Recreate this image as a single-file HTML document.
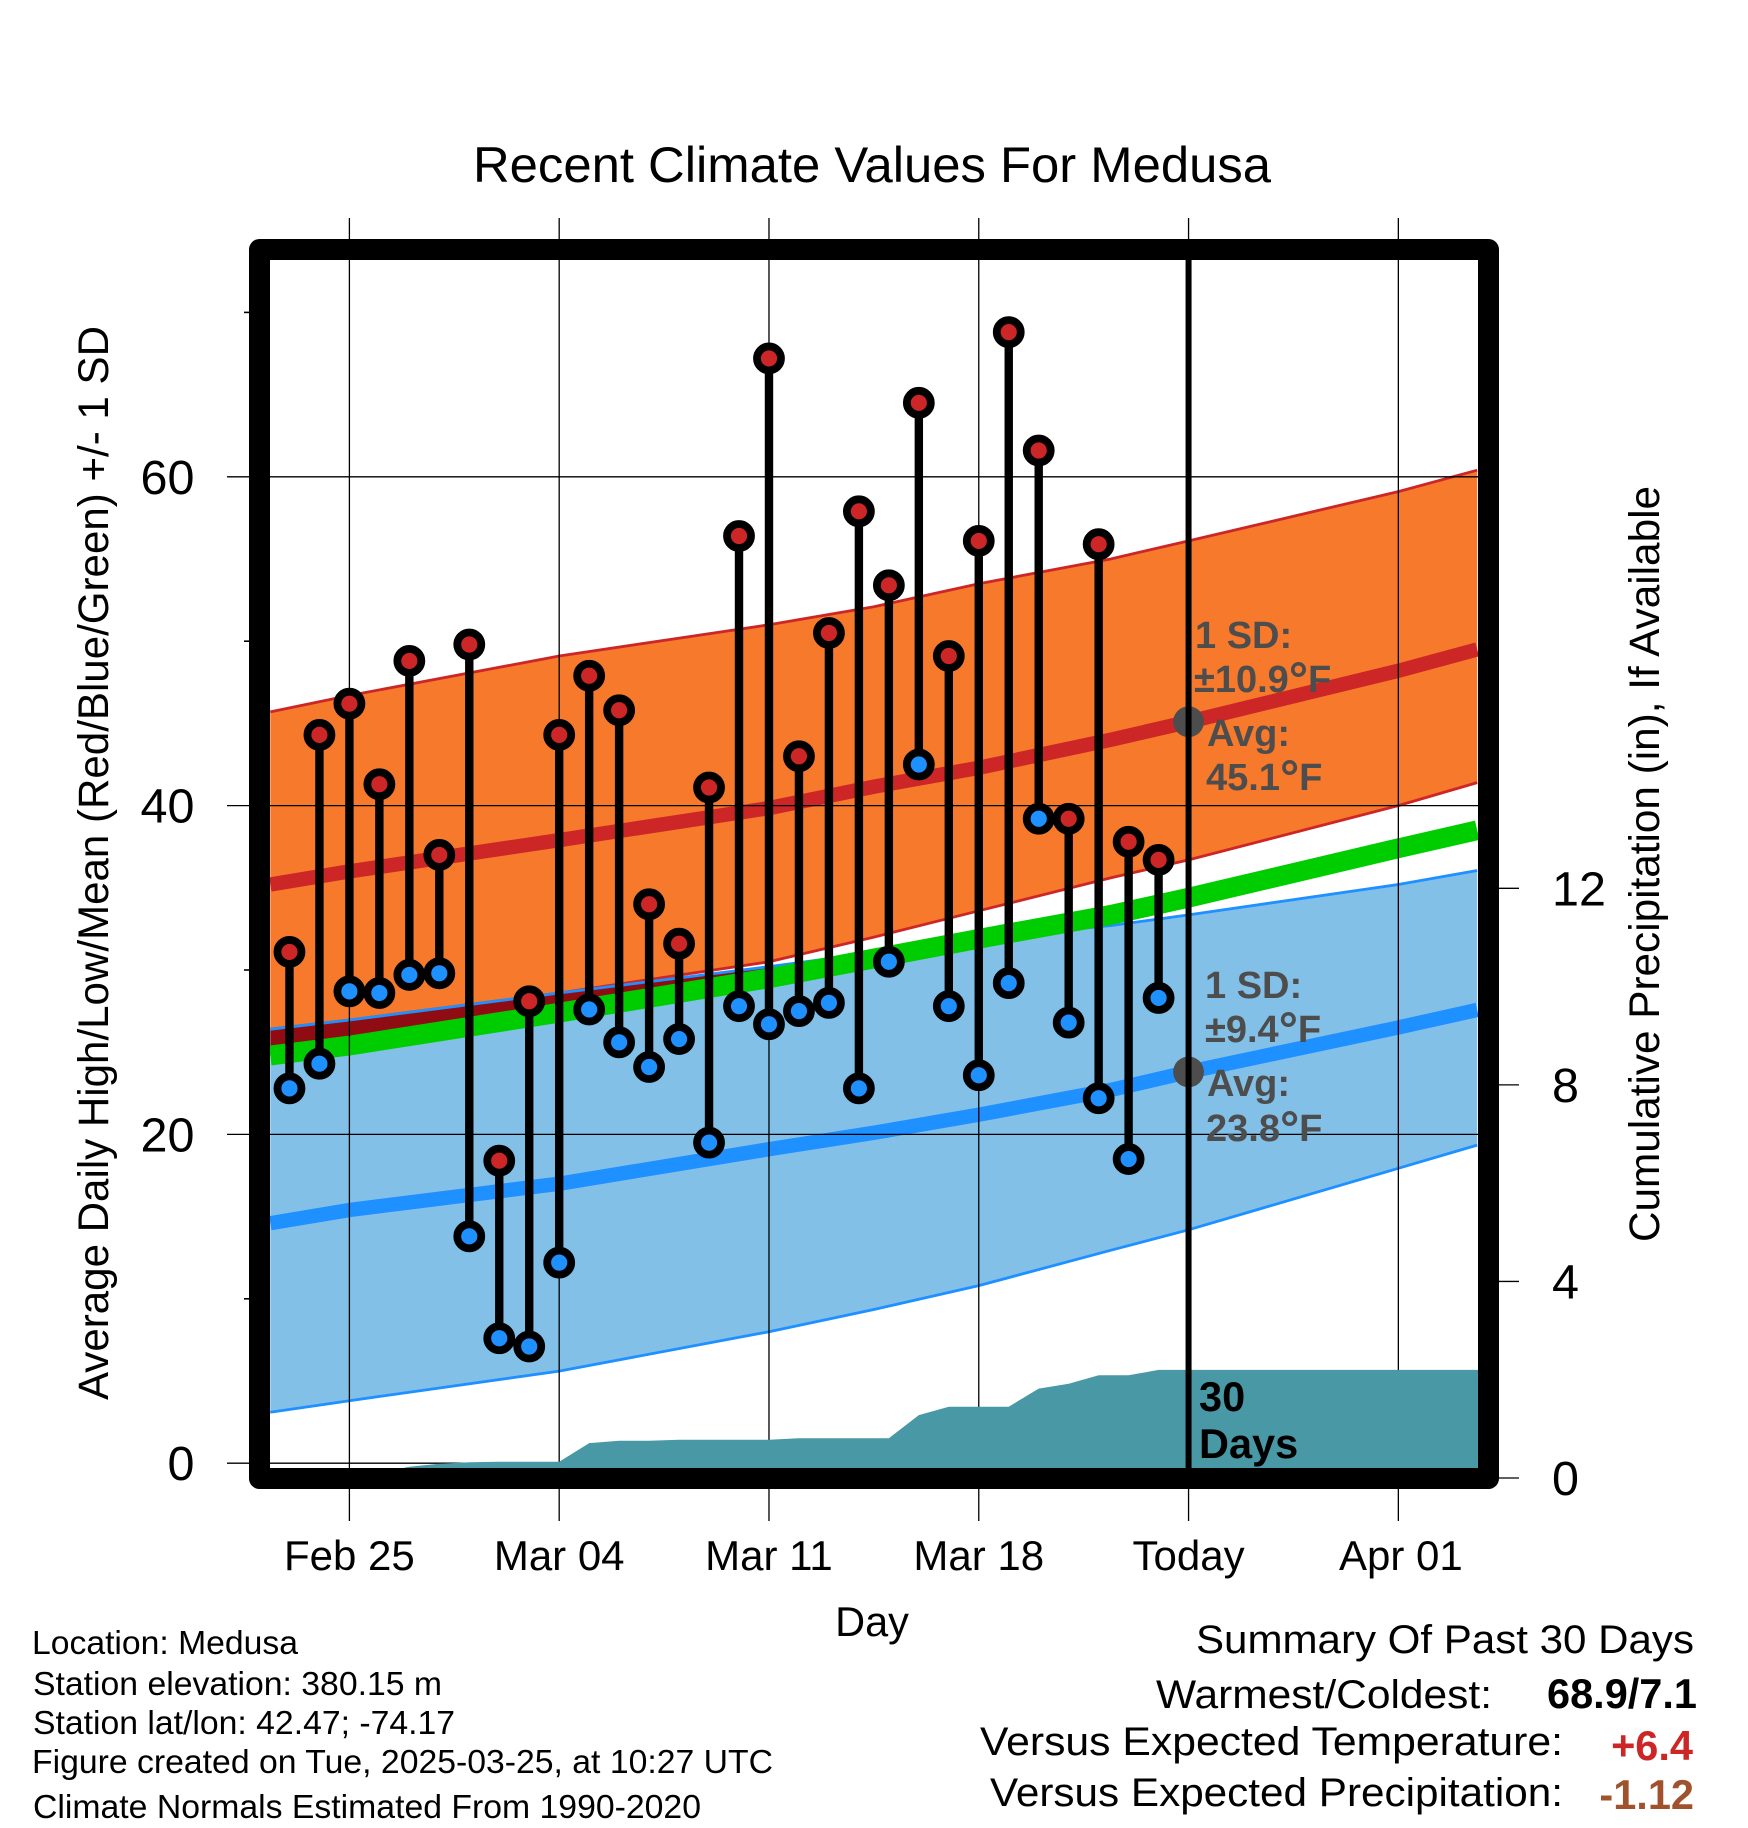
<!DOCTYPE html>
<html lang="en">
<head>
<meta charset="utf-8">
<title>Recent Climate Values For Medusa</title>
<style>
html,body{margin:0;padding:0;background:#fff;width:1748px;height:1828px;overflow:hidden}
svg{display:block;font-family:"Liberation Sans",Arial,Helvetica,sans-serif}
.note{font-weight:bold;fill:#4d4d4d;font-size:38px}
.info{font-size:33.6px;fill:#000}
.sum{font-size:40px;fill:#000}
.sumb{font-size:41.5px;font-weight:bold}
</style>
</head>
<body>
<svg id="chart" xmlns="http://www.w3.org/2000/svg" width="1748" height="1828" viewBox="0 0 1748 1828">
  <rect x="0" y="0" width="1748" height="1828" fill="#ffffff"/>
  <defs><clipPath id="plotClip"><rect x="270" y="260" width="1208" height="1208"/></clipPath></defs>
  <g id="bands" clip-path="url(#plotClip)"></g>
  <g id="grid"></g>
  <g id="precip" clip-path="url(#plotClip)"></g>
  <g id="today"></g>
  <g id="obs"></g>
  <rect x="259.5" y="249.5" width="1229" height="1229" fill="none" stroke="#000" stroke-width="21" stroke-linejoin="round"/>
  <g id="ticklabels" fill="#000"></g>

  <text x="872" y="182" text-anchor="middle" font-size="50" textLength="798" lengthAdjust="spacingAndGlyphs">Recent Climate Values For Medusa</text>
  <text transform="translate(108,863) rotate(-90)" text-anchor="middle" font-size="42.5" textLength="1074" lengthAdjust="spacingAndGlyphs">Average Daily High/Low/Mean (Red/Blue/Green) +/- 1 SD</text>
  <text transform="translate(1659,864) rotate(-90)" text-anchor="middle" font-size="42.5" textLength="756" lengthAdjust="spacingAndGlyphs">Cumulative Precipitation (in), If Available</text>
  <text x="872" y="1636" text-anchor="middle" font-size="41.5">Day</text>

  <text class="note" x="1195" y="648">1 SD:</text>
  <text class="note" x="1194" y="692">±10.9<tspan font-size="48" dy="4">°</tspan><tspan dy="-4">F</tspan></text>
  <text class="note" x="1207" y="746">Avg:</text>
  <text class="note" x="1206" y="790">45.1<tspan font-size="48" dy="4">°</tspan><tspan dy="-4">F</tspan></text>
  <text class="note" x="1205" y="998">1 SD:</text>
  <text class="note" x="1205" y="1042">±9.4<tspan font-size="48" dy="4">°</tspan><tspan dy="-4">F</tspan></text>
  <text class="note" x="1207" y="1096">Avg:</text>
  <text class="note" x="1206" y="1141">23.8<tspan font-size="48" dy="4">°</tspan><tspan dy="-4">F</tspan></text>
  <text x="1199" y="1411" font-size="41.5" font-weight="bold" fill="#000">30</text>
  <text x="1199" y="1458" font-size="41.5" font-weight="bold" fill="#000">Days</text>

  <text class="info" x="32" y="1654" textLength="266" lengthAdjust="spacingAndGlyphs">Location: Medusa</text>
  <text class="info" x="33" y="1695" textLength="409" lengthAdjust="spacingAndGlyphs">Station elevation: 380.15 m</text>
  <text class="info" x="33" y="1734" textLength="422" lengthAdjust="spacingAndGlyphs">Station lat/lon: 42.47; -74.17</text>
  <text class="info" x="32" y="1773" textLength="741" lengthAdjust="spacingAndGlyphs">Figure created on Tue, 2025-03-25, at 10:27 UTC</text>
  <text class="info" x="33" y="1818" textLength="668" lengthAdjust="spacingAndGlyphs">Climate Normals Estimated From 1990-2020</text>

  <text class="sum" x="1694" y="1653" text-anchor="end" textLength="498" lengthAdjust="spacingAndGlyphs">Summary Of Past 30 Days</text>
  <text class="sum" x="1492" y="1708" text-anchor="end" textLength="336" lengthAdjust="spacingAndGlyphs">Warmest/Coldest:</text>
  <text class="sumb" x="1697" y="1708" text-anchor="end" fill="#000">68.9/7.1</text>
  <text class="sum" x="1563" y="1755" text-anchor="end" textLength="583" lengthAdjust="spacingAndGlyphs">Versus Expected Temperature:</text>
  <text class="sumb" x="1693" y="1760" text-anchor="end" fill="#cd2626">+6.4</text>
  <text class="sum" x="1563" y="1806" text-anchor="end" textLength="573" lengthAdjust="spacingAndGlyphs">Versus Expected Precipitation:</text>
  <text class="sumb" x="1694" y="1809" text-anchor="end" fill="#a0522d">-1.12</text>
</svg>
<script>
// ---- data (days are counted from Feb 25) ----
const obsDays = [-2,-1,0,1,2,3,4,5,6,7,8,9,10,11,12,13,14,15,16,17,18,19,20,21,22,23,24,25,26,27];
const dailyHigh = [31.1,44.3,46.2,41.3,48.8,37.0,49.8,18.4,28.1,44.3,47.9,45.8,34.0,31.6,41.1,56.4,67.2,43.0,50.5,57.9,53.4,64.5,49.1,56.1,68.8,61.6,39.2,55.9,37.8,36.7];
const dailyLow = [22.8,24.3,28.7,28.6,29.7,29.8,13.8,7.6,7.1,12.2,27.6,25.6,24.1,25.8,19.5,27.8,26.7,27.5,28.0,22.8,30.5,42.5,27.8,23.6,29.2,39.2,26.8,22.2,18.5,28.3];
const cumPrecip = [0,0,0,0.1,0.23,0.29,0.32,0.33,0.33,0.33,0.71,0.76,0.76,0.78,0.78,0.78,0.78,0.81,0.81,0.81,0.81,1.28,1.45,1.45,1.45,1.82,1.92,2.09,2.09,2.2];
const normalDays = [-2.64,0,7,14,17.5,21,25.4,28,35,37.63];
const highUpper = [45.7,46.7,49.1,51.0,52.1,53.5,55.0,56.1,59.1,60.4];
const highMean = [35.2,36.0,37.9,39.85,41.15,42.3,44.0,45.1,48.2,49.5];
const highLower = [26.4,26.96,28.6,30.5,32.0,33.6,35.6,36.7,40.0,41.4];
const dailyMean = [24.8,25.4,27.4,29.5,30.7,31.9,33.35,34.4,37.4,38.5];
const lowUpper = [26.4,26.96,28.6,30.2,31.05,31.95,32.7,33.35,35.2,36.05];
const lowMean = [14.6,15.4,17.0,19.1,20.1,21.2,22.7,23.8,26.5,27.57];
const lowLower = [3.1,3.8,5.6,8.0,9.35,10.8,12.95,14.2,17.94,19.35];
const xTickDays = [0,7,14,21,28,35];
const xTickLabels = ["Feb 25","Mar 04","Mar 11","Mar 18","Today","Apr 01"];
const yTicks = [0,20,40,60];
const yMinorTicks = [10,30,50,70];
const precipTicks = [0,4,8,12];
const todayDay = 28;
const todayHighAvg = 45.1;
const todayLowAvg = 23.8;
const overlapEndIndex = 3;
const lastDay = 37.7;

// ---- axis functions ----
const xScale = d => 349.4 + 29.97 * d;
const yScale = v => 1463.2 - 16.44 * v;
const pScale = v => 1478 - 49.14 * v;

const NS = "http://www.w3.org/2000/svg";
function mk(parent, tag, attrs, txt){
  const el = document.createElementNS(NS, tag);
  for (const k in attrs) el.setAttribute(k, attrs[k]);
  if (txt !== undefined) el.textContent = txt;
  parent.appendChild(el);
  return el;
}
const linePts = (days, vals, dy) => days.map((d,i) => xScale(d).toFixed(1) + "," + (yScale(vals[i]) + (dy||0)).toFixed(1));
const bandPts = (days, up, lo) => linePts(days, up).concat(linePts(days, lo).reverse()).join(" ");

const bands = document.getElementById("bands");
const grid = document.getElementById("grid");
const precip = document.getElementById("precip");
const today = document.getElementById("today");
const obs = document.getElementById("obs");
const labels = document.getElementById("ticklabels");

// bands
const lowFill = mk(bands, "polygon", {points: bandPts(normalDays, lowUpper, lowLower), fill: "#82c0e8"});


const highFill = mk(bands, "polygon", {points: bandPts(normalDays, highUpper, highLower), fill: "#f6792c"});



const ovDays = normalDays.slice(0, overlapEndIndex + 1);
const ovLo = dailyMean.slice(0, overlapEndIndex + 1);
const ovUp = lowUpper.slice(0, overlapEndIndex + 1);
const overlap = mk(bands, "polygon", {points: bandPts(ovDays, ovUp, ovLo), fill: "#8f0d12"});



const hiLo = mk(bands, "polyline", {points: linePts(normalDays, highLower).join(" "), fill: "none", stroke: "#cd2626", "stroke-width": 2.8});


const hiUp = mk(bands, "polyline", {points: linePts(normalDays, highUpper).join(" "), fill: "none", stroke: "#cd2626", "stroke-width": 2.8});


const hiMean = mk(bands, "polyline", {points: linePts(normalDays, highMean).join(" "), fill: "none", stroke: "#cd2626", "stroke-width": 14.4});



const loUp = mk(bands, "polyline", {points: linePts(normalDays, lowUpper).join(" "), fill: "none", stroke: "#1e90ff", "stroke-width": 2.8});


const loLo = mk(bands, "polyline", {points: linePts(normalDays, lowLower).join(" "), fill: "none", stroke: "#1e90ff", "stroke-width": 2.8});


const loMean = mk(bands, "polyline", {points: linePts(normalDays, lowMean).join(" "), fill: "none", stroke: "#1e90ff", "stroke-width": 14.4});



const greenLine = mk(bands, "polyline", {points: linePts(normalDays, dailyMean).join(" "), fill: "none", stroke: "#00cd00", "stroke-width": 19.8});



// grid and ticks
xTickDays.forEach((d,i) => {
  const g = mk(grid, "line", {x1: xScale(d), x2: xScale(d), y1: 218, y2: 1521, stroke: "#000", "stroke-width": 1.3});
  
  
  const t = mk(labels, "text", {x: xScale(d) + (d === 35 ? 2.5 : 0), y: 1570, "text-anchor": "middle", "font-size": 42}, xTickLabels[i]);
  
  
});
yTicks.forEach(v => {
  const g = mk(grid, "line", {x1: 227, x2: 1478, y1: yScale(v), y2: yScale(v), stroke: "#000", "stroke-width": 1.3});
  
  
  const t = mk(labels, "text", {x: 194.5, y: yScale(v) + 17, "text-anchor": "end", "font-size": 48.5}, String(v));
  
  
});
yMinorTicks.forEach(v => {
  const g = mk(grid, "line", {x1: 244, x2: 250, y1: yScale(v), y2: yScale(v), stroke: "#000", "stroke-width": 1.6});
  
  
});
precipTicks.forEach(v => {
  const g = mk(grid, "line", {x1: 1499, x2: 1519, y1: pScale(v), y2: pScale(v), stroke: "#000", "stroke-width": 1.3});
  
  
  const t = mk(labels, "text", {x: 1552, y: pScale(v) + 17, "font-size": 48.5}, String(v));
  
  
});

// precipitation
const last = cumPrecip[cumPrecip.length - 1];
const pPts = ["270,1480", xScale(obsDays[0]).toFixed(1) + ",1480"]
  .concat(obsDays.map((d,i) => xScale(d).toFixed(1) + "," + pScale(cumPrecip[i]).toFixed(1)))
  .concat([xScale(lastDay).toFixed(1) + "," + pScale(last).toFixed(1), xScale(lastDay).toFixed(1) + ",1480"]);
const pArea = mk(precip, "polygon", {points: pPts.join(" "), fill: "#4899a5"});



// today marker
const todayDotHigh = mk(today, "circle", {cx: xScale(todayDay), cy: yScale(todayHighAvg), r: 15.4, fill: "#4d4d4d"});


const todayDotLow = mk(today, "circle", {cx: xScale(todayDay), cy: yScale(todayLowAvg), r: 15.4, fill: "#4d4d4d"});


const todayLine = mk(today, "line", {x1: xScale(todayDay), x2: xScale(todayDay), y1: 255, y2: 1470, stroke: "#000", "stroke-width": 6});



// observations
obsDays.forEach((d,i) => {
  const x = xScale(d), yh = yScale(dailyHigh[i]), yl = yScale(dailyLow[i]);
  const s = mk(obs, "line", {x1: x, x2: x, y1: yh, y2: yl, stroke: "#000", "stroke-width": 8.4});
  
  
});
obsDays.forEach((d,i) => {
  const x = xScale(d), yh = yScale(dailyHigh[i]), yl = yScale(dailyLow[i]);
  const lo = mk(obs, "circle", {cx: x, cy: yl, r: 12, fill: "#1e90ff", stroke: "#000", "stroke-width": 7.8});
  
  
  const hi = mk(obs, "circle", {cx: x, cy: yh, r: 12, fill: "#cd2626", stroke: "#000", "stroke-width": 7.8});
  
  
});
</script>
</body>
</html>
